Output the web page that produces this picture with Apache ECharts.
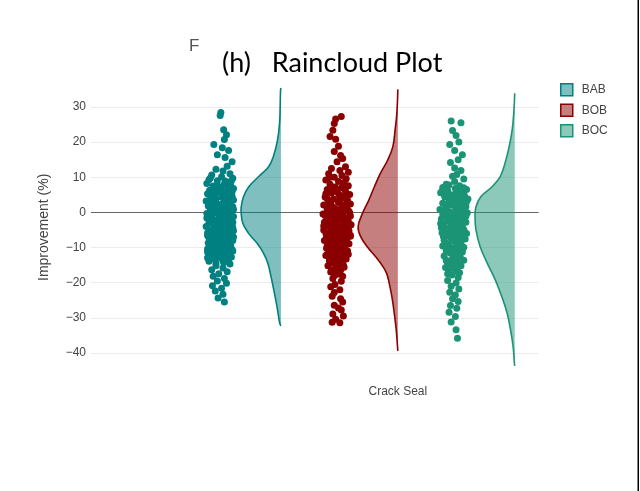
<!DOCTYPE html>
<html>
<head>
<meta charset="utf-8">
<script src="https://cdn.jsdelivr.net/npm/echarts@6/dist/echarts.min.js"></script>
<style>
  html, body { margin: 0; padding: 0; background: #fff; }
  #chart { width: 640px; height: 491px; }
</style>
</head>
<body>
<div id="chart"></div>
<script>
// ---- data ----------------------------------------------------------------
const category = 'Crack Seal';
const groups = ['BAB', 'BOB', 'BOC'];
const yTicks = [-40, -30, -20, -10, 0, 10, 20, 30];

// raw observations: [jitter (-1..1), improvement %]
const babPoints = [
  [0.05,28.4],[0.0,27.6],[0.25,23.5],[0.45,22.1],[0.3,20.7],[-0.45,19.3],[0.15,18.4],[0.6,17.6],[-0.2,16.4],[0.35,15.6],
  [0.85,14.4],[0.5,13.1],[-0.3,12.3],[0.2,11.8],[0.7,11.0],[-0.6,10.6],[0.1,10.1],[0.9,9.7],[-0.8,9.3],[-0.2,9.0],[0.45,8.6],
  [-0.95,8.2],[0.3,8.0],[0.75,7.7],[-0.5,7.5],[0.05,7.2],[-0.25,7.0],[0.95,6.8],[0.55,6.5],[-0.75,6.3],[0.2,6.0],
  [-0.1,5.8],[0.65,5.6],[-0.9,5.3],[0.4,5.1],[-0.4,4.9],[0.85,4.6],[0.1,4.4],[-0.65,4.2],[0.5,3.9],[-0.3,3.7],
  [0.95,3.5],[-1.0,3.2],[0.25,3.0],[-0.55,2.8],[0.7,2.5],[-0.15,2.3],[0.4,2.1],[-0.85,1.8],[0.9,1.6],[0.0,1.4],
  [-0.45,1.1],[0.6,0.9],[-0.7,0.7],[0.3,0.4],[0.8,0.2],[-0.3,0.0],[-0.95,-0.3],[0.15,-0.5],[0.55,-0.7],[-0.6,-1.0],
  [0.95,-1.2],[-0.1,-1.4],[0.4,-1.7],[-0.8,-1.9],[0.7,-2.1],[-0.35,-2.4],[0.1,-2.6],[0.9,-2.8],[-0.65,-3.1],[0.35,-3.3],
  [-0.05,-3.5],[0.75,-3.8],[-1.0,-4.0],[0.2,-4.2],[-0.45,-4.5],[0.6,-4.7],[-0.2,-4.9],[0.95,-5.2],[-0.75,-5.4],[0.05,-5.6],
  [0.45,-5.9],[-0.5,-6.1],[0.8,-6.3],[-0.9,-6.6],[0.25,-6.8],[-0.15,-7.0],[0.65,-7.3],[-0.6,-7.5],[0.35,-7.7],[0.9,-8.0],
  [-0.3,-8.2],[0.0,-8.4],[-0.85,-8.7],[0.5,-8.9],[-0.4,-9.1],[0.75,-9.4],[0.1,-9.6],[-0.7,-9.8],[0.4,-10.1],[-0.2,-10.3],
  [0.85,-10.6],[-0.55,-10.8],[0.2,-11.0],[-0.9,-11.3],[0.6,-11.5],[-0.1,-11.8],[0.35,-12.1],[-0.65,-12.4],[0.8,-12.7],[0.05,-13.0],
  [-0.4,-13.3],[0.5,-13.6],[-0.8,-13.9],[0.25,-14.3],
  [0.5,7.9],[-0.4,6.1],[0.7,4.0],[0.15,2.0],[-0.5,0.5],[0.3,-1.5],[-0.8,-3.0],[0.9,-4.4],[0.0,-6.0],[-0.45,-7.8],
  [0.3,-9.3],[0.9,-11.0],[-0.2,-12.5],[0.15,5.0],[0.5,3.3],[-0.25,1.2],[0.8,-0.9],[0.45,-2.9],[-0.6,-5.0],[0.6,-6.9],
  [0.25,-8.6],[-0.9,-10.4],[0.05,0.3],[-0.55,-2.2],[0.3,-4.9],[-0.8,-7.2],
  [-0.7,9.8],[0.35,8.9],[-0.15,7.4],[0.85,5.9],[-0.55,4.7],[0.6,3.6],[-0.8,2.4],[0.05,1.9],[0.95,0.8],[-0.4,-0.1],
  [0.45,-1.0],[-0.95,-1.6],[0.0,-2.3],[0.65,-3.0],[-0.3,-3.9],[0.5,-5.4],[-0.9,-5.9],[0.2,-6.5],[0.95,-7.0],[-0.5,-8.0],
  [0.55,-8.2],[-0.1,-9.0],[-0.75,-9.5],[0.7,-10.0],[0.0,-10.9],[-0.45,-11.6],[0.5,-12.2],[-0.9,-12.9],[0.2,-13.7],[-0.3,-14.5],
  [0.6,-14.1],[0.8,9.0],[-0.35,6.6],[0.25,5.4],[-0.7,3.8],[0.75,2.9],[-0.2,1.6],[0.3,-0.2],[-0.6,-2.0],[0.85,-3.6],
  [-0.25,-6.7],[0.4,-7.4],[-0.65,-10.0],[0.1,-12.0],
  [0.7,-14.7],[-0.3,-15.2],[0.2,-15.8],[-0.6,-16.3],[0.5,-16.9],[-0.1,-17.5],[-0.5,-18.2],[0.3,-18.8],[-0.2,-19.5],[0.45,-20.2],
  [-0.55,-20.9],[0.1,-21.6],[-0.35,-22.4],[0.2,-23.3],[-0.15,-24.4],[0.3,-25.5]
];
const bobPoints = [
  [0.3,27.3],[-0.1,26.6],[-0.2,25.3],[-0.3,23.4],[-0.5,21.6],[-0.1,20.8],[0.1,18.8],[-0.2,17.3],[0.25,16.2],[0.4,15.3],
  [0.0,14.4],[0.6,13.0],[-0.4,12.5],[0.2,11.9],[0.8,11.4],[-0.6,11.0],[0.35,10.5],[-0.2,10.0],[0.65,9.6],[-0.8,9.2],[0.1,8.8],
  [0.45,8.4],[-0.5,8.0],[0.8,7.6],[-0.15,7.2],[0.3,6.9],[-0.7,6.5],[0.6,6.1],[0.0,5.8],[-0.4,5.5],[0.9,5.1],
  [0.2,4.8],[-0.85,4.4],[0.5,4.1],[-0.25,3.8],[0.75,3.4],[-0.6,3.1],[0.1,2.8],[0.95,2.4],[-0.95,2.1],[0.35,1.8],
  [-0.3,1.5],[0.65,1.2],[-0.7,0.9],[0.05,0.6],[0.85,0.3],[-0.45,0.0],[0.4,-0.3],[-1.0,-0.5],[0.15,-0.8],[0.95,-1.0],
  [-0.2,-1.3],[0.55,-1.5],[-0.65,-1.8],[0.25,-2.0],[-0.05,-2.3],[0.8,-2.5],[-0.9,-2.8],[0.45,-3.0],[-0.35,-3.3],[1.0,-3.5],
  [0.0,-3.8],[-0.6,-4.0],[0.6,-4.3],[-0.25,-4.5],[0.3,-4.8],[-0.95,-5.0],[0.85,-5.3],[0.1,-5.5],[-0.5,-5.8],[0.5,-6.0],
  [-0.15,-6.3],[0.95,-6.5],[-0.75,-6.8],[0.2,-7.0],[-0.35,-7.3],[0.7,-7.5],[-0.05,-7.8],[-0.9,-8.0],[0.4,-8.3],[-0.45,-8.6],
  [0.85,-8.9],[0.0,-9.2],[-0.7,-9.5],[0.55,-9.8],[-0.2,-10.1],[0.3,-10.4],[-0.6,-10.7],[0.75,-11.0],[0.05,-11.3],[-0.4,-11.6],
  [0.5,-12.0],[-0.8,-12.3],[0.2,-12.6],[-0.15,-13.0],[0.65,-13.3],[-0.55,-13.7],[0.35,-14.0],[-0.25,-14.4],[0.1,-14.8],[-0.65,-15.2],
  [0.5,-15.6],[-0.1,-16.0],[0.25,-16.5],[-0.45,-17.0],[0.0,-17.6],[0.4,-18.2],
  [0.55,7.4],[-0.8,5.3],[0.2,3.6],[-0.5,1.9],[0.5,0.7],[-0.3,-0.6],[0.1,-1.6],[0.6,-2.7],[-0.8,-3.6],[0.8,-4.6],
  [-0.3,-5.6],[0.3,-6.6],[-0.6,-7.6],[0.65,-8.7],[-0.1,-9.6],[0.15,-10.9],[-0.35,-12.1],[0.0,-13.5],[-0.75,-1.1],[0.35,-3.9],
  [0.7,-6.2],[-0.35,-9.0],[-0.45,2.6],[0.6,4.6],
  [-0.55,9.9],[0.5,8.2],[-0.35,6.7],[0.15,5.0],[-0.7,3.9],[0.55,2.2],[-0.1,1.0],[0.9,-0.2],[-0.85,-0.9],[0.3,-1.8],
  [-0.45,-2.6],[0.75,-3.2],[-0.15,-4.2],[0.45,-5.1],[-0.8,-5.9],[0.95,-6.8],[0.05,-7.2],[-0.5,-8.4],[0.6,-9.3],[-0.3,-10.5],
  [0.25,-11.4],[-0.7,-12.0],[0.5,-12.9],[-0.05,-14.2],[0.45,-15.0],[-0.4,-16.3],[0.15,-17.2],[-0.2,-18.0],[0.7,1.5],[-0.6,2.9],
  [0.35,-2.2],[-0.95,-3.9],[0.75,-5.6],[-0.3,-7.0],[0.2,-8.9],[-0.75,-10.2],[0.8,-11.9],[0.1,-13.8],
  [-0.3,-18.8],[0.3,-19.6],[-0.15,-20.5],[-0.45,-21.2],[0.2,-22.0],[-0.2,-22.8],[-0.35,-23.9],[0.25,-24.6],[0.4,-25.5],[-0.2,-26.4],
  [0.1,-27.2],[0.3,-27.8],[-0.3,-28.9],[0.45,-29.5],[-0.1,-30.4],[-0.35,-31.3],[0.2,-31.4]
];
const bocPoints = [
  [-0.2,26.0],[0.5,25.5],[-0.1,23.3],[0.15,21.9],[0.35,20.0],[-0.3,19.3],[0.05,17.6],[0.6,16.4],[0.3,15.0],[-0.25,14.2],
  [0.05,12.6],[0.5,11.9],[0.2,10.8],[-0.1,10.3],[0.7,9.5],[0.05,8.8],[-0.55,8.0],[0.4,7.6],
  [-0.8,7.1],[0.1,6.8],[0.9,6.5],[-0.45,6.2],[0.5,5.9],[-0.95,5.6],[0.25,5.3],[-0.2,5.0],[0.75,4.7],[-0.65,4.4],
  [0.4,4.1],[1.0,3.8],[-0.35,3.5],[0.0,3.2],[0.6,2.9],[-0.8,2.6],[0.3,2.3],[-0.1,2.0],[0.85,1.7],[-0.55,1.4],
  [0.15,1.1],[-1.0,0.8],[0.55,0.5],[-0.3,0.2],[0.95,-0.1],[0.05,-0.4],[-0.7,-0.7],[0.4,-1.0],[-0.15,-1.3],[0.7,-1.6],
  [-0.9,-1.9],[0.2,-2.2],[-0.4,-2.5],[0.85,-2.8],[0.0,-3.1],[-0.75,-3.4],[0.5,-3.7],[-0.25,-4.0],[0.25,-4.3],[-0.6,-4.6],
  [0.7,-4.9],[-0.05,-5.2],[0.4,-5.5],[-0.85,-5.8],[0.1,-6.1],[0.6,-6.4],[-0.45,-6.7],[0.3,-7.0],[-0.2,-7.3],[0.8,-7.6],
  [-0.7,-7.9],[0.05,-8.2],[0.5,-8.6],[-0.4,-8.9],[0.2,-9.2],[-0.8,-9.6],[0.7,-9.9],[-0.1,-10.2],[0.35,-10.6],[-0.55,-10.9],
  [0.6,-11.3],[-0.25,-11.6],[0.15,-12.0],[-0.7,-12.4],[0.45,-12.8],[-0.1,-13.2],[0.7,-13.6],[-0.5,-14.0],[0.2,-14.4],[-0.3,-14.8],
  [0.5,-15.2],[-0.6,-15.7],[0.1,-16.2],[-0.35,-16.7],[0.4,-17.2],[-0.15,-17.8],
  [0.2,6.0],[-0.5,4.9],[0.55,3.9],[0.0,2.7],[0.5,1.5],[-0.6,0.4],[0.45,-0.5],[0.05,-1.8],[0.5,-3.0],[-0.9,-4.4],
  [0.75,-5.6],[-0.75,-6.9],[0.45,-8.0],[-0.35,-9.4],[0.0,-10.8],[0.4,-12.2],[0.1,-13.9],[0.65,5.4],[-0.5,2.2],[0.85,-1.1],
  [0.15,-3.6],
  [-0.35,7.8],[0.7,7.0],[-0.7,5.1],[0.05,4.5],[0.9,3.0],[-0.6,1.9],[0.3,0.7],[-0.2,-0.2],[0.75,-0.9],[-0.5,-1.5],
  [0.35,-2.6],[-0.95,-3.2],[0.6,-4.1],[-0.4,-5.4],[0.9,-6.0],[-0.1,-7.0],[0.25,-8.4],[-0.6,-8.8],[0.6,-10.4],[-0.35,-11.1],
  [0.3,-12.6],[-0.55,-13.6],[0.4,-14.6],[-0.05,-15.5],[0.25,-16.9],[-0.45,-17.5],[-0.85,6.0],[0.4,5.7],[-0.3,3.4],[0.1,0.0],
  [-0.8,-0.5],[0.55,-2.0],[-0.15,-4.8],[0.7,-7.3],[-0.3,-9.8],[0.1,-11.8],
  [0.3,-18.5],[-0.45,-19.4],[0.15,-20.1],[-0.2,-21.0],[0.35,-21.8],[-0.3,-22.7],[0.1,-23.5],[-0.1,-24.6],[0.3,-25.4],[-0.25,-26.5],
  [0.2,-27.3],[-0.35,-28.4],[0.1,-29.6],[-0.2,-31.2],[0.15,-33.4],[0.25,-35.8]
];

// kernel density outlines: [improvement %, density relative to the group maximum]
const babDensity = [
  [35.4,0],[34.8,0.01],[30,0.02],[25.4,0.035],[20.6,0.085],[15.9,0.19],[13,0.31],[10.2,0.56],[7.3,0.81],[4.5,0.94],
  [1.6,1.0],[-0.3,1.0],[-3.1,0.96],[-5.9,0.82],[-8.8,0.6],[-11.6,0.44],[-14.5,0.33],[-18.3,0.25],[-22.1,0.18],[-26.8,0.1],
  [-31.6,0.03],[-32.3,0]
];
const bobDensity = [
  [35.0,0],[28.2,0.025],[23.4,0.07],[18.7,0.125],[14.9,0.255],[11.1,0.44],[7.3,0.59],[3.5,0.73],[-0.3,0.89],[-4.1,1.0],
  [-6.9,0.935],[-9.8,0.77],[-12.6,0.56],[-15.5,0.37],[-17.3,0.285],[-19.2,0.235],[-24,0.15],[-28.7,0.09],[-33.5,0.04],
  [-38.2,0.008],[-39.4,0]
];
const bocDensity = [
  [33.9,0],[28.2,0.025],[23.4,0.065],[18.7,0.14],[14,0.245],[10.2,0.365],[7.3,0.57],[4.5,0.85],[1.6,0.975],[-1.2,1.0],
  [-5,0.975],[-9.8,0.87],[-14.5,0.69],[-19.2,0.49],[-24,0.325],[-28.7,0.19],[-33.5,0.105],[-38.2,0.04],[-43,0.008],[-43.7,0]
];

// ---- styling / layout ------------------------------------------------------
const colors = {
  BAB: { line: '#008080', fill: 'rgba(0,128,128,0.5)' },
  BOB: { line: '#8b0000', fill: 'rgba(139,0,0,0.5)' },
  BOC: { line: '#1b9475', fill: 'rgba(27,148,117,0.5)' }
};
const pointsByGroup = { BAB: babPoints, BOB: bobPoints, BOC: bocPoints };
const densityByGroup = { BAB: babDensity, BOB: bobDensity, BOC: bocDensity };

const HALF_VIOLIN = 0.34;   // max half-width of a violin, in x units
const CLOUD_OFFSET = -0.52; // jitter cloud centre relative to violin baseline
const JITTER = 0.12;        // jitter half-width

const minus = v => (v < 0 ? '\u2212' + Math.abs(v) : String(v));
const font = '"Liberation Sans", Arial, sans-serif';

const series = [];
groups.forEach((g, gi) => {
  const pos = gi - 1;
  const dens = densityByGroup[g];
  // half violin (density) drawn to the left of the baseline
  series.push({
    name: g,
    type: 'custom',
    silent: true,
    data: [[pos, 0]],
    renderItem: (params, api) => {
      const outline = dens.map(d => api.coord([pos - HALF_VIOLIN * d[1], d[0]]));
      const top = api.coord([pos, dens[0][0]]);
      const bottom = api.coord([pos, dens[dens.length - 1][0]]);
      return {
        type: 'group',
        children: [
          {
            type: 'polygon',
            shape: { points: [top].concat(outline, [bottom]), smooth: 0.4 },
            style: { fill: colors[g].fill, stroke: null }
          },
          {
            type: 'polyline',
            shape: { points: outline, smooth: 0.4 },
            style: { fill: null, stroke: colors[g].line, lineWidth: 1.6 }
          }
        ]
      };
    },
    z: 2
  });
  // jittered raw points
  const s = {
    name: g,
    type: 'scatter',
    silent: true,
    symbolSize: 7,
    itemStyle: { color: colors[g].line, opacity: 1 },
    data: pointsByGroup[g].map(p => [pos + CLOUD_OFFSET + JITTER * p[0], p[1]]),
    z: 3
  };
  if (gi === 0) {
    s.markLine = {
      silent: true,
      symbol: 'none',
      label: { show: false },
      lineStyle: { color: '#666', width: 1, type: 'solid' },
      data: [{ yAxis: 0 }],
      z: 1
    };
  }
  series.push(s);
});

const chart = echarts.init(document.getElementById('chart'), null, { renderer: 'canvas' });
chart.setOption({
  backgroundColor: '#ffffff',
  animation: false,
  title: {
    text: '(h)   Raincloud Plot',
    left: 217,
    top: 45,
    textStyle: { fontFamily: 'Lato, "Open Sans", sans-serif', fontSize: 27, fontWeight: 'normal', color: '#000' }
  },
  legend: {
    orient: 'vertical',
    left: 555,
    top: 78,
    itemWidth: 12,
    itemHeight: 12,
    itemGap: 7,
    icon: 'rect',
    selectedMode: false,
    textStyle: { fontFamily: font, fontSize: 12, color: '#444', padding: [0, 0, 0, 4] },
    data: groups.map(g => ({
      name: g,
      itemStyle: { color: colors[g].fill, borderColor: colors[g].line, borderWidth: 1.5 }
    }))
  },
  grid: { left: 91, right: 101.3, top: 84.1, bottom: 120.5 },
  xAxis: {
    type: 'value',
    min: -2.625,
    max: 1.205,
    axisLine: { show: false },
    axisTick: { show: false },
    splitLine: { show: false },
    axisLabel: {
      customValues: [0],
      formatter: () => category,
      fontFamily: font,
      fontSize: 12,
      color: '#444',
      margin: 15
    }
  },
  yAxis: {
    type: 'value',
    min: -45,
    max: 36.5,
    name: 'Improvement (%)',
    nameLocation: 'middle',
    nameGap: 40,
    nameTextStyle: { fontFamily: font, fontSize: 14, color: '#444' },
    axisLine: { show: false },
    axisTick: { show: false, customValues: yTicks },
    axisLabel: {
      customValues: yTicks,
      formatter: minus,
      fontFamily: font,
      fontSize: 12,
      color: '#444',
      margin: 5
    },
    splitLine: { show: true, lineStyle: { color: '#ececec', width: 1 } }
  },
  graphic: [
    {
      type: 'text',
      left: 189,
      top: 38,
      style: { text: 'F', fontFamily: font, fontSize: 17, fill: '#555' }
    },
    {
      type: 'rect',
      shape: { x: 637.5, y: 0, width: 1.5, height: 491 },
      style: { fill: '#000' }
    }
  ],
  series: series
});
</script>
</body>
</html>
